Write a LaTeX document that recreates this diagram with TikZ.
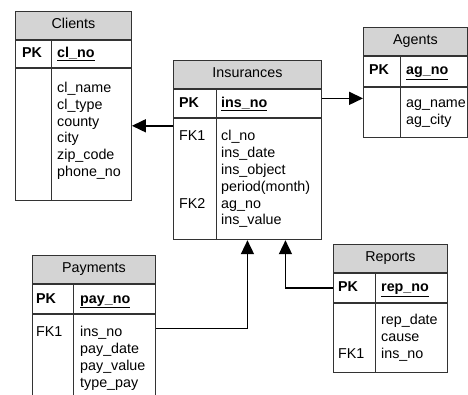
\documentclass[tikz,border=0pt]{standalone}
\usepackage{fontspec}
\setmainfont{Liberation Sans}
\usetikzlibrary{arrows.meta,positioning}
\newcommand{\ersize}{\fontsize{14.3}{16.8}\selectfont}

\begin{document}
\begin{tikzpicture}[x=1pt,y=-1pt,
	every node/.style={font=\ersize},
	frame/.style={draw=black!80, line width=0.9pt},
	head/.style={frame, fill=black!17, anchor=north west, minimum height=28pt, inner sep=0pt, text height=11.5pt, text depth=4.5pt},
	cell/.style={frame, anchor=north, inner sep=0pt},
	pk/.style={anchor=base west, inner sep=0pt, font=\ersize\bfseries},
	cols/.style={anchor=north west, inner sep=0pt, align=left},
	fk/.style={line width=1.6pt, -{Triangle[length=14pt,width=13pt]}}]
	\clip (0,0) rectangle (468,394);
	
	% Clients
	\node[head, minimum width=116pt] (cl) at (15,11) {Clients};
	\node[cell, minimum width=116pt, minimum height=27pt] (cl-pk) at (cl.south) {};
	\node[cell, minimum width=116pt, minimum height=132pt] (cl-body) at (cl-pk.south) {};
	\draw[frame] ([xshift=36pt]cl-pk.north west) -- ([xshift=36pt]cl-body.south west);
	\node[pk] (cl-k) at (22,57.5) {PK};
	\node[pk] (cl-id) at (57,57.5) {\underline{cl\_no}};
	\node[cols] (cl-f) at (57,80.6) {\strut cl\_name\\cl\_type\\county\\city\\zip\_code\\phone\_no};
	
	% Insurances
	\node[head, minimum width=148pt] (ins) at (173,60) {Insurances};
	\node[cell, minimum width=148pt, minimum height=28pt] (ins-pk) at (ins.south) {};
	\node[cell, minimum width=148pt, minimum height=121.5pt] (ins-body) at (ins-pk.south) {};
	\draw[frame] ([xshift=43pt]ins-pk.north west) -- ([xshift=43pt]ins-body.south west);
	\node[pk] (ins-k) at (179,107) {PK};
	\node[pk] (ins-id) at (221,107) {\underline{ins\_no}};
	\node[cols] (ins-keys) at (179,128.9) {\strut FK1\\\mbox{}\\\mbox{}\\\mbox{}\\FK2};
	\node[cols] (ins-f) at (221,128.9) {\strut cl\_no\\ins\_date\\ins\_object\\period(month)\\ag\_no\\ins\_value};
	
	% Agents
	\node[head, minimum width=104pt] (ag) at (363,27) {Agents};
	\node[cell, minimum width=104pt, minimum height=30pt] (ag-pk) at (ag.south) {};
	\node[cell, minimum width=104pt, minimum height=50pt] (ag-body) at (ag-pk.south) {};
	\draw[frame] ([xshift=37pt]ag-pk.north west) -- ([xshift=37pt]ag-body.south west);
	\node[pk] (ag-k) at (369,74.5) {PK};
	\node[pk] (ag-id) at (406,74.5) {\underline{ag\_no}};
	\node[cols] (ag-f) at (406,95.5) {\strut ag\_name\\ag\_city};
	
	% Payments
	\node[head, minimum width=123pt] (pay) at (32,255) {Payments};
	\node[cell, minimum width=123pt, minimum height=29pt] (pay-pk) at (pay.south) {};
	\node[cell, minimum width=123pt, minimum height=90pt] (pay-body) at (pay-pk.south) {};
	\draw[frame] ([xshift=41pt]pay-pk.north west) -- ([xshift=41pt]pay-body.south west);
	\node[pk] (pay-k) at (36,303) {PK};
	\node[pk] (pay-id) at (80,303) {\underline{pay\_no}};
	\node[cols] (pay-keys) at (36,324.9) {\strut FK1};
	\node[cols] (pay-f) at (80,324.9) {\strut ins\_no\\pay\_date\\pay\_value\\type\_pay};
	
	% Reports
	\node[head, minimum width=114pt] (rep) at (333,244) {Reports};
	\node[cell, minimum width=114pt, minimum height=29pt] (rep-pk) at (rep.south) {};
	\node[cell, minimum width=114pt, minimum height=69pt] (rep-body) at (rep-pk.south) {};
	\draw[frame] ([xshift=42pt]rep-pk.north west) -- ([xshift=42pt]rep-body.south west);
	\node[pk] (rep-k) at (338,291.5) {PK};
	\node[pk] (rep-id) at (381,291.5) {\underline{rep\_no}};
	\node[cols] (rep-keys) at (338,313) {\strut\\\mbox{}\\FK1};
	\node[cols] (rep-f) at (381,313) {\strut rep\_date\\cause\\ins\_no};
	
	% foreign keys
	\coordinate (c1) at ([yshift=-8pt]ins-body.north west);
	\coordinate (c2) at ([yshift=5pt]ins-pk.east);
	\coordinate (c3) at ([yshift=-14.7pt]pay-body.north east);
	\coordinate (c4) at ([xshift=38pt]ins-body.south);
	\draw[fk] (c1) -- (c1 -| cl-body.east);
	\draw[fk] (c2) -- (c2 -| ag-body.west);
	\draw[fk] (c3) -| (ins-body.south);
	\draw[fk] (rep-pk.west) -| (c4);
\end{tikzpicture}
\end{document}
